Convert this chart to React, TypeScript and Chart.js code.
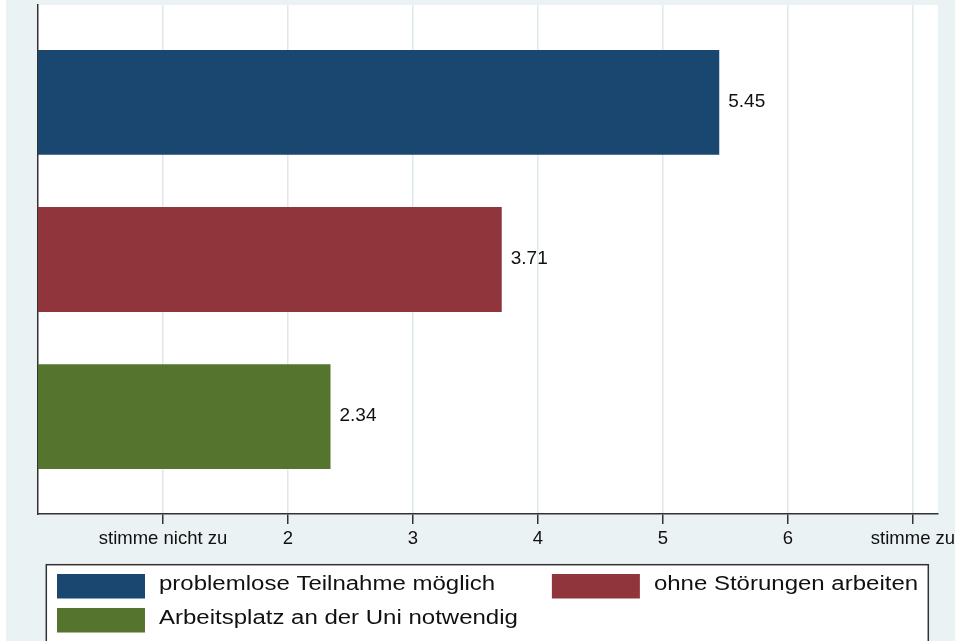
import React, { useEffect, useRef } from "react";
import { Chart, registerables } from "chart.js";

Chart.register(...registerables);

// ---- data ----
const categories = [
  "problemlose Teilnahme möglich",
  "ohne Störungen arbeiten",
  "Arbeitsplatz an der Uni notwendig",
];
const values = [5.45, 3.71, 2.34];
const barColors = ["#1A476F", "#90353B", "#55752F"];
const tickValues = [1, 2, 3, 4, 5, 6, 7];
const tickLabels = ["stimme nicht zu", "2", "3", "4", "5", "6", "stimme zu"];
const xMin = 0;
const xMax = 7.2;

const FONT = "'Liberation Sans', Arial, Helvetica, sans-serif";
const PAGE_BG = "#EAF2F3";

const backgroundPlugin = {
  id: "bgPlugin",
  beforeDraw(chart: any) {
    const { ctx, chartArea, width, height } = chart;
    ctx.save();
    ctx.fillStyle = PAGE_BG;
    ctx.fillRect(0, 0, width, height);
    ctx.fillStyle = "#FFFFFF";
    ctx.fillRect(
      chartArea.left,
      chartArea.top,
      chartArea.right - chartArea.left,
      chartArea.bottom - chartArea.top
    );
    ctx.restore();
  },
};

const valueLabelPlugin = {
  id: "valueLabels",
  afterDatasetsDraw(chart: any) {
    const { ctx } = chart;
    ctx.save();
    ctx.font = `19px ${FONT}`;
    ctx.fillStyle = "#111111";
    ctx.textAlign = "left";
    ctx.textBaseline = "middle";
    chart.data.datasets.forEach((ds: any, i: number) => {
      const meta = chart.getDatasetMeta(i);
      const el = meta.data[0];
      if (!el) return;
      const v = ds.data[0].x as number;
      ctx.fillText(v.toFixed(2), el.x + 9, el.y - 1);
    });
    ctx.restore();
  },
};

const boxLegendPlugin = {
  id: "boxLegend",
  afterDraw(chart: any) {
    const { ctx, chartArea, height } = chart;
    const boxLeft = chartArea.left + 8.3;
    const boxRight = chartArea.right - 9.7;
    const boxTop = chartArea.bottom + 50.7;
    const swW = 88;
    const swH = 24.5;
    const gap = 14;
    const rowPitch = 34;
    const colGap = 34;
    const stretch = 1.2;
    ctx.save();
    ctx.fillStyle = "#FFFFFF";
    ctx.fillRect(boxLeft, boxTop, boxRight - boxLeft, height - boxTop + 20);
    ctx.strokeStyle = "#333333";
    ctx.lineWidth = 1.5;
    ctx.strokeRect(boxLeft, boxTop, boxRight - boxLeft, height - boxTop + 20);

    ctx.font = `20px ${FONT}`;
    const items = chart.data.datasets.map((ds: any) => ({
      label: ds.label as string,
      color: ds.backgroundColor as string,
    }));
    let col0Max = 0;
    items.forEach((it: any, k: number) => {
      if (k % 2 === 0) {
        col0Max = Math.max(col0Max, ctx.measureText(it.label).width * stretch);
      }
    });
    const col0X = boxLeft + 10.7;
    const col1X = col0X + swW + gap + col0Max + colGap;
    items.forEach((it: any, k: number) => {
      const row = Math.floor(k / 2);
      const col = k % 2;
      const x = col === 0 ? col0X : col1X;
      const y = boxTop + 9.3 + row * rowPitch;
      ctx.fillStyle = it.color;
      ctx.fillRect(x, y, swW, swH);
      ctx.fillStyle = "#111111";
      ctx.textAlign = "left";
      ctx.textBaseline = "alphabetic";
      ctx.save();
      ctx.translate(x + swW + gap, y + 15.5);
      ctx.scale(stretch, 1);
      ctx.fillText(it.label, 0, 0);
      ctx.restore();
    });
    ctx.restore();
  },
};

export default function App() {
  const ref = useRef<HTMLCanvasElement>(null);

  useEffect(() => {
    if (!ref.current) return;
    const datasets = categories.map((label, i) => ({
      label,
      data: [{ x: values[i], y: i + 1 }],
      backgroundColor: barColors[i],
      borderWidth: 0,
      grouped: false,
      barPercentage: 0.667,
      categoryPercentage: 1,
    }));
    const chart = new Chart(ref.current, {
      type: "bar",
      data: { datasets },
      options: {
        indexAxis: "y",
        animation: false,
        responsive: false,
        events: [],
        layout: { padding: { top: 5, right: 17, bottom: 87, left: 0 } },
        plugins: {
          legend: { display: false },
          tooltip: { enabled: false },
        },
        scales: {
          x: {
            type: "linear",
            min: xMin,
            max: xMax,
            offset: false,
            afterBuildTicks: (s: any) => {
              s.ticks = tickValues.map((v) => ({ value: v }));
            },
            afterFit: (s: any) => {
              s.height = 40;
              s.paddingLeft = 0;
              s.paddingRight = 0;
            },
            ticks: {
              autoSkip: false,
              maxRotation: 0,
              minRotation: 0,
              padding: 4,
              color: "#111111",
              font: { family: FONT, size: 18.5 },
              callback: (v: any) => {
                const idx = tickValues.indexOf(Number(v));
                return idx >= 0 ? tickLabels[idx] : "";
              },
            },
            grid: {
              color: "#DFE8EC",
              lineWidth: 1.5,
              tickColor: "#333333",
              tickLength: 10,
              tickWidth: 1.5,
            },
            border: { display: true, color: "#333333", width: 1.5 },
          },
          y: {
            type: "linear",
            reverse: true,
            min: 0.38,
            max: 3.62,
            offset: false,
            afterBuildTicks: (s: any) => {
              s.ticks = categories.map((_, i) => ({ value: i + 1 }));
            },
            afterFit: (s: any) => {
              s.width = 32;
            },
            ticks: { display: false },
            grid: { display: false, drawTicks: false },
            border: { display: true, color: "#333333", width: 1.5 },
          },
        },
      } as any,
      plugins: [backgroundPlugin, valueLabelPlugin, boxLegendPlugin],
    });
    return () => chart.destroy();
  }, []);

  return (
    <div
      style={{
        paddingLeft: 6,
        background: "#FFFFFF",
        width: 949,
        height: 641,
        overflow: "hidden",
      }}
    >
      <style>{`html,body{margin:0;padding:0;overflow:hidden;}`}</style>
      <canvas
        ref={ref}
        width={949}
        height={641}
        style={{ display: "block", width: 949, height: 641 }}
      />
    </div>
  );
}
